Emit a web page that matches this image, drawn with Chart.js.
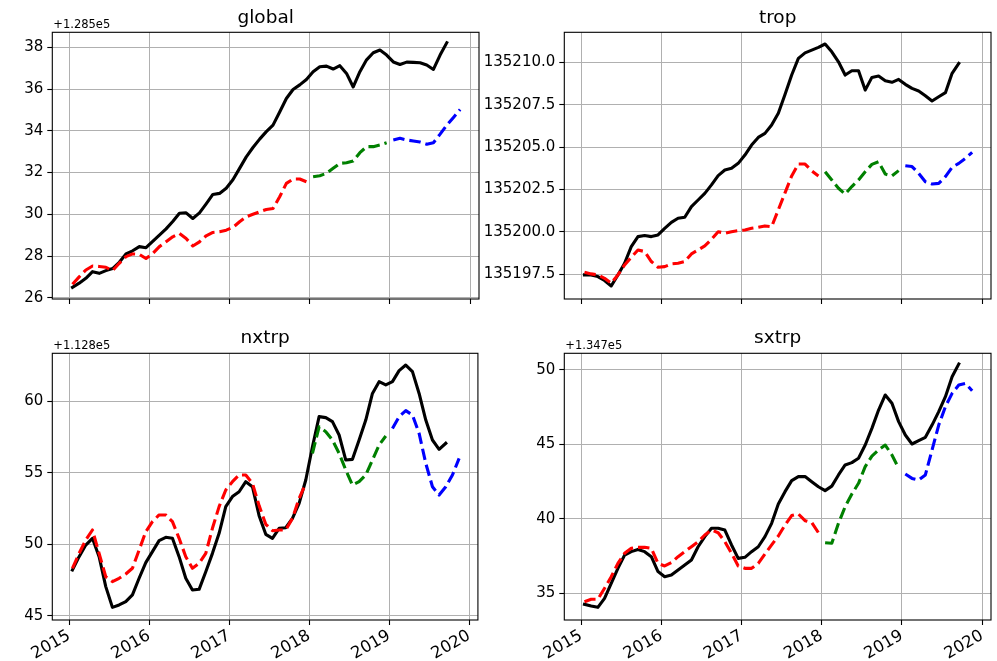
<!DOCTYPE html>
<html>
<head>
<meta charset="utf-8">
<title>global / trop / nxtrp / sxtrp</title>
<script src="https://cdn.jsdelivr.net/npm/chart.js@4.4.1/dist/chart.umd.min.js"></script>
<style>
  html, body { margin: 0; padding: 0; background: #fff; }
  #fig { position: relative; width: 997px; height: 661px; overflow: hidden; }
  #fig canvas { position: absolute; }
</style>
</head>
<body>
<div id="fig">
  <canvas id="global" width="480" height="320" style="left:0;top:0"></canvas>
  <canvas id="trop" width="517" height="320" style="left:480px;top:0"></canvas>
  <canvas id="nxtrp" width="480" height="341" style="left:0;top:320px"></canvas>
  <canvas id="sxtrp" width="517" height="341" style="left:480px;top:320px"></canvas>
</div>
<script>
// monthly axis, Jan 2015 .. Dec 2019
const months = [];
for (let y = 2015; y <= 2019; y++) {
  for (let m = 1; m <= 12; m++) months.push(y + "-" + String(m).padStart(2, "0"));
}
const yearTicks = [2015, 2016, 2017, 2018, 2019, 2020];

// observed series start Jan 2015, the three predictions start Jan 2015, Jan 2018, Jan 2019
const globalBase = 128500;
const globalObs = [26.5, 26.7, 26.93, 27.25, 27.17, 27.3, 27.4, 27.7, 28.1, 28.25,
  28.45, 28.4, 28.7, 29.0, 29.3, 29.65, 30.05, 30.07, 29.8, 30.07,
  30.5, 30.95, 31.0, 31.25, 31.65, 32.2, 32.75, 33.2, 33.6, 33.96,
  34.27, 34.9, 35.55, 35.98, 36.2, 36.46, 36.83, 37.07, 37.1, 36.96,
  37.12, 36.75, 36.1, 36.83, 37.4, 37.74, 37.87, 37.63, 37.3, 37.18,
  37.29, 37.28, 37.26, 37.15, 36.94, 37.63, 38.22];
const globalPred15 = [26.65, 27.0, 27.33, 27.52, 27.5, 27.46, 27.3, 27.65, 27.97, 28.1,
  28.08, 27.88, 28.12, 28.45, 28.68, 28.92, 29.08, 28.84, 28.48, 28.68,
  28.97, 29.13, 29.16, 29.24, 29.37, 29.64, 29.88, 30.0, 30.12, 30.23,
  30.28, 30.84, 31.48, 31.69, 31.69, 31.56];
const globalPred18 = [31.8, 31.85, 31.96, 32.2, 32.44, 32.47, 32.55, 32.95, 33.24, 33.24, 33.32, 33.43];
const globalPred19 = [33.56, 33.64, 33.56, 33.51, 33.46, 33.36, 33.43, 33.84, 34.27, 34.64, 35.02];

const tropBase = 135000;
const tropObs = [197.46, 197.46, 197.36, 197.13, 196.81, 197.46, 198.15, 199.13, 199.72, 199.78,
  199.72, 199.82, 200.21, 200.56, 200.8, 200.86, 201.49, 201.88, 202.27, 202.77,
  203.32, 203.65, 203.75, 204.04, 204.53, 205.12, 205.57, 205.81, 206.3, 207.0,
  208.1, 209.25, 210.23, 210.56, 210.72, 210.88, 211.08, 210.62, 210.03, 209.25,
  209.5, 209.5, 208.36, 209.11, 209.19, 208.91, 208.82, 208.99, 208.7, 208.46,
  208.31, 208.03, 207.72, 207.97, 208.21, 209.35, 209.94];
const tropPred15 = [197.62, 197.52, 197.46, 197.26, 196.97, 197.46, 198.05, 198.5, 198.93, 198.84,
  198.25, 197.91, 197.95, 198.11, 198.15, 198.25, 198.7, 198.93, 199.17, 199.56,
  200.01, 199.92, 200.01, 200.07, 200.11, 200.21, 200.27, 200.35, 200.3, 201.3,
  202.3, 203.3, 204.0, 204.0, 203.6, 203.3];
const tropPred18 = [203.55, 203.06, 202.57, 202.23, 202.67, 203.06, 203.55, 203.98, 204.14, 203.41, 203.3, 203.61];
const tropPred19 = [203.9, 203.85, 203.45, 202.96, 202.82, 202.86, 203.26, 203.81, 204.04, 204.34, 204.69];

const nxtrpBase = 112800;
const nxtrpObs = [48.21, 49.14, 49.95, 50.42, 49.14, 47.05, 45.6, 45.77, 46.0, 46.47,
  47.63, 48.72, 49.49, 50.26, 50.49, 50.42, 49.14, 47.63, 46.81, 46.86,
  48.09, 49.37, 50.77, 52.63, 53.33, 53.67, 54.37, 54.02, 52.0, 50.7,
  50.42, 51.12, 51.16, 51.81, 52.86, 54.49, 56.81, 58.91, 58.84, 58.56,
  57.63, 55.88, 55.93, 57.28, 58.67, 60.53, 61.35, 61.12, 61.35, 62.12,
  62.51, 62.05, 60.53, 58.67, 57.28, 56.63, 57.05];
const nxtrpPred15 = [48.33, 49.37, 50.3, 51.0, 49.37, 47.74, 47.4, 47.63, 47.93, 48.33,
  49.6, 50.88, 51.58, 52.05, 52.05, 51.58, 50.42, 49.14, 48.33, 48.67,
  49.37, 51.12, 52.63, 53.79, 54.37, 54.84, 54.84, 54.26, 52.7, 51.4,
  50.95, 51.0, 51.0, 51.81, 53.2, 54.26];
const nxtrpPred18 = [56.35, 58.2, 57.86, 57.28, 56.35, 55.19, 54.14, 54.37, 54.84, 55.88, 56.93, 57.56];
const nxtrpPred19 = [58.09, 58.91, 59.33, 59.02, 57.74, 55.65, 54.02, 53.44, 54.02, 54.84, 56.0];

const sxtrpBase = 134700;
const sxtrpObs = [34.26, 34.15, 34.06, 34.66, 35.67, 36.68, 37.57, 37.8, 37.95, 37.8,
  37.46, 36.46, 36.12, 36.23, 36.57, 36.9, 37.24, 38.13, 38.81, 39.37,
  39.37, 39.25, 38.25, 37.35, 37.42, 37.8, 38.13, 38.81, 39.7, 41.0,
  41.83, 42.57, 42.84, 42.84, 42.5, 42.16, 41.9, 42.2, 42.95, 43.62,
  43.78, 44.07, 44.96, 46.08, 47.31, 48.32, 47.76, 46.53, 45.63, 45.03,
  45.25, 45.48, 46.3, 47.2, 48.21, 49.55, 50.4];
const sxtrpPred15 = [34.44, 34.6, 34.6, 35.34, 36.12, 37.01, 37.69, 38.02, 38.09, 38.09,
  38.02, 37.01, 36.84, 37.06, 37.46, 37.8, 38.13, 38.47, 38.92, 39.25,
  39.07, 38.47, 37.69, 36.84, 36.68, 36.68, 37.01, 37.64, 38.25, 38.85,
  39.59, 40.22, 40.33, 39.88, 39.75, 39.07];
const sxtrpPred18 = [38.4, 38.36, 39.7, 40.82, 41.67, 42.39, 43.51, 44.22, 44.63, 44.96, 44.29, 43.4];
const sxtrpPred19 = [43.01, 42.72, 42.61, 42.95, 44.63, 46.3, 47.54, 48.43, 48.99, 49.1, 48.61];

const globalTicks = [26, 28, 30, 32, 34, 36, 38];
const tropTicks = [197.5, 200, 202.5, 205, 207.5, 210];
const nxtrpTicks = [45, 50, 55, 60];
const sxtrpTicks = [35, 40, 45, 50];

const FONT = "'DejaVu Sans', sans-serif";
const GRID = "#b0b0b0";
const LW = 3.1;
Chart.defaults.font.family = FONT;
Chart.defaults.color = "#000";

// mid-month position in decimal years
const toYear = (ym) => {
  const [y, m] = ym.split("-").map(Number);
  return y + (m - 0.5) / 12;
};
const points = (vals, start, base) =>
  vals.map((v, i) => ({ x: toYear(months[start + i]), y: base + v }));

const line = (data, color, dashed) => ({
  data,
  borderColor: color,
  borderWidth: LW,
  borderDash: dashed ? [3.7 * LW, 1.6 * LW] : [],
  borderCapStyle: dashed ? "butt" : "square",
  borderJoinStyle: "round",
  pointRadius: 0,
  tension: 0,
  fill: false,
  order: dashed ? 0 : 1,
});

// box around the axes plus the offset label above the y axis
const frame = {
  id: "frame",
  afterDraw(chart, args, opts) {
    const { ctx, chartArea: a } = chart;
    ctx.save();
    ctx.strokeStyle = "#000";
    ctx.lineWidth = 1.1;
    ctx.strokeRect(a.left, a.top, a.right - a.left, a.bottom - a.top);
    if (opts.text) {
      ctx.font = "11.5px " + FONT;
      ctx.fillStyle = "#000";
      ctx.textBaseline = "alphabetic";
      ctx.fillText(opts.text, a.left + 1, a.top - 4.3);
    }
    ctx.restore();
  },
};

function panel(cfg) {
  const canvas = document.getElementById(cfg.id);
  const W = canvas.width, H = canvas.height;
  return new Chart(canvas, {
    type: "line",
    data: {
      datasets: [
        line(points(cfg.p15, 0, cfg.base), "#ff0000", true),
        line(points(cfg.p18, 36, cfg.base), "#008000", true),
        line(points(cfg.p19, 48, cfg.base), "#0000ff", true),
        line(points(cfg.obs, 0, cfg.base), "#000000", false),
      ],
    },
    options: {
      responsive: false,
      animation: false,
      events: [],
      layout: { padding: { left: 0, right: W - cfg.right, top: 0, bottom: 0 } },
      plugins: {
        legend: { display: false },
        tooltip: { enabled: false },
        title: {
          display: true,
          text: cfg.id,
          fullSize: false,
          color: "#000",
          font: { size: 18.5, weight: "normal", lineHeight: 1.2 },
          padding: { top: 7.3, bottom: cfg.top - 7.3 - 22.2 },
        },
        frame: { text: cfg.offsetText },
      },
      scales: {
        x: {
          type: "linear",
          min: 2014.79,
          max: 2020.11,
          afterBuildTicks: (s) => { s.ticks = yearTicks.map((v) => ({ value: v })); },
          afterFit: (s) => { s.height = H - cfg.bottom; },
          border: { display: false },
          grid: { color: GRID, lineWidth: 1, tickColor: "#000", tickWidth: 1.1, tickLength: 5 },
          ticks: {
            display: cfg.years,
            minRotation: 30,
            maxRotation: 30,
            padding: 1,
            font: { size: 16.4 },
            callback: (v) => String(v),
          },
        },
        y: {
          type: "linear",
          min: cfg.base + cfg.yMin,
          max: cfg.base + cfg.yMax,
          afterBuildTicks: (s) => { s.ticks = cfg.ticks.map((v) => ({ value: cfg.base + v })); },
          afterFit: (s) => { s.width = cfg.left; },
          border: { display: false },
          grid: { color: GRID, lineWidth: 1, tickColor: "#000", tickWidth: 1.1, tickLength: 5 },
          ticks: { padding: 4, font: { size: 15 }, callback: cfg.label },
        },
      },
    },
    plugins: [frame],
  });
}

panel({
  id: "global", base: globalBase, obs: globalObs, p15: globalPred15, p18: globalPred18, p19: globalPred19,
  ticks: globalTicks, yMin: 25.94, yMax: 38.72, offsetText: "+1.285e5",
  label: (v) => (v - globalBase).toFixed(0),
  left: 52.3, right: 479, top: 32.3, bottom: 299, years: false,
});
panel({
  id: "trop", base: tropBase, obs: tropObs, p15: tropPred15, p18: tropPred18, p19: tropPred19,
  ticks: tropTicks, yMin: 196.04, yMax: 211.77, offsetText: "",
  label: (v) => v.toFixed(1),
  left: 84.3, right: 511, top: 32.3, bottom: 299, years: false,
});
panel({
  id: "nxtrp", base: nxtrpBase, obs: nxtrpObs, p15: nxtrpPred15, p18: nxtrpPred18, p19: nxtrpPred19,
  ticks: nxtrpTicks, yMin: 44.72, yMax: 63.33, offsetText: "+1.128e5",
  label: (v) => (v - nxtrpBase).toFixed(0),
  left: 52.3, right: 479, top: 33.3, bottom: 300, years: true,
});
panel({
  id: "sxtrp", base: sxtrpBase, obs: sxtrpObs, p15: sxtrpPred15, p18: sxtrpPred18, p19: sxtrpPred19,
  ticks: sxtrpTicks, yMin: 33.21, yMax: 51.12, offsetText: "+1.347e5",
  label: (v) => (v - sxtrpBase).toFixed(0),
  left: 84.3, right: 511, top: 33.3, bottom: 300, years: true,
});
</script>
</body>
</html>
